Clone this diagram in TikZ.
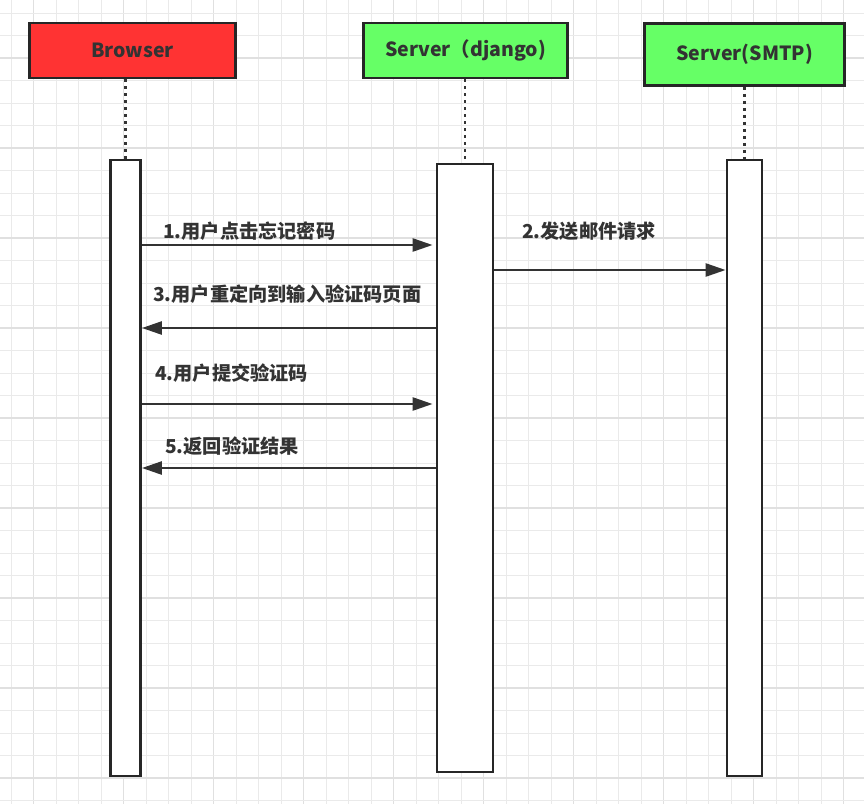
\documentclass[tikz,border=0pt]{standalone}
\usepackage{fontspec}
\setmainfont{Noto Sans CJK SC}
\usetikzlibrary{arrows.meta, positioning}
\definecolor{headred}{HTML}{FF3333}
\definecolor{headgreen}{HTML}{66FF66}
\definecolor{ink}{HTML}{333333}
\definecolor{gridminor}{HTML}{EAEAEA}
\definecolor{gridmajor}{HTML}{E0E0E0}

\begin{document}
\begin{tikzpicture}[
        x=1pt, y=-1pt,
        head/.style={draw=black!85, line width=2.8pt, minimum height=55pt, text=ink, font=\bfseries\fontsize{19.5}{22}\selectfont},
        bar/.style={draw=black!85, line width=2.8pt, fill=white, inner sep=0pt},
        line/.style={ink, line width=2.5pt},
        arr/.style={line, -{Triangle[length=20pt, width=13pt]}},
        life/.style={ink, line width=2.8pt, dash pattern=on 2.8pt off 4.2pt},
        lbl/.style={anchor=west, inner sep=0pt, text=ink, font=\bfseries\fontsize{19.2}{22}\selectfont}
    ]
        \useasboundingbox (0,0) rectangle (864,804);
        \fill[white] (0,0) rectangle (864,804);

        % background grid
        \foreach \k in {0,...,38} {
            \pgfmathtruncatemacro{\m}{mod(\k,4)}
            \ifnum\m=1
                \draw[gridmajor, line width=1.4pt] (11.1+22.5*\k,0) -- (11.1+22.5*\k,804);
            \else
                \draw[gridminor, line width=1pt] (11.1+22.5*\k,0) -- (11.1+22.5*\k,804);
            \fi
        }
        \foreach \k in {0,...,35} {
            \pgfmathtruncatemacro{\m}{mod(\k,4)}
            \ifnum\m=2
                \draw[gridmajor, line width=1.4pt] (0,13+22.5*\k) -- (864,13+22.5*\k);
            \else
                \draw[gridminor, line width=1pt] (0,13+22.5*\k) -- (864,13+22.5*\k);
            \fi
        }

        % participants
        \node[head, fill=headred, minimum width=206pt] (bhead) at (132.5,50.5) {Browser};
        \node[head, fill=headgreen, minimum width=204pt] (dhead) at (465.5,50.5) {Server（django)};
        \node[head, fill=headgreen, minimum width=200pt, minimum height=62pt] (shead) at (744.5,54.5) {Server(SMTP)};

        \node[bar, minimum width=30pt, minimum height=616pt] (bbar) at (125.5,468) {};
        \node[bar, minimum width=56pt, minimum height=608pt] (dbar) at (465,468) {};
        \node[bar, minimum width=35pt, minimum height=616pt] (sbar) at (744.5,468) {};

        \draw[life] (bbar.north |- bhead.south) -- (bbar.north);
        \draw[life] (dbar.north |- dhead.south) -- (dbar.north);
        \draw[life] (sbar.north |- shead.south) -- (sbar.north);

        % messages
        \coordinate (m1) at (0,245);
        \coordinate (m2) at (0,270);
        \coordinate (m3) at (0,328);
        \coordinate (m4) at (0,404);
        \coordinate (m5) at (0,468);

        \draw[arr, shorten >=3pt] (bbar.east |- m1) -- (dbar.west |- m1);
        \draw[arr] (dbar.east |- m2) -- (sbar.west |- m2);
        \draw[arr] (dbar.west |- m3) -- (bbar.east |- m3);
        \draw[arr, shorten >=3pt] (bbar.east |- m4) -- (dbar.west |- m4);
        \draw[arr] (dbar.west |- m5) -- (bbar.east |- m5);

        \node[lbl] (t1) at (163,231) {1.用户点击忘记密码};
        \node[lbl] (t2) at (522,231) {2.发送邮件请求};
        \node[lbl] (t3) at (153,294) {3.用户重定向到输入验证码页面};
        \node[lbl] (t4) at (155,373) {4.用户提交验证码};
        \node[lbl] (t5) at (165,446) {5.返回验证结果};
    \end{tikzpicture}
\end{document}
